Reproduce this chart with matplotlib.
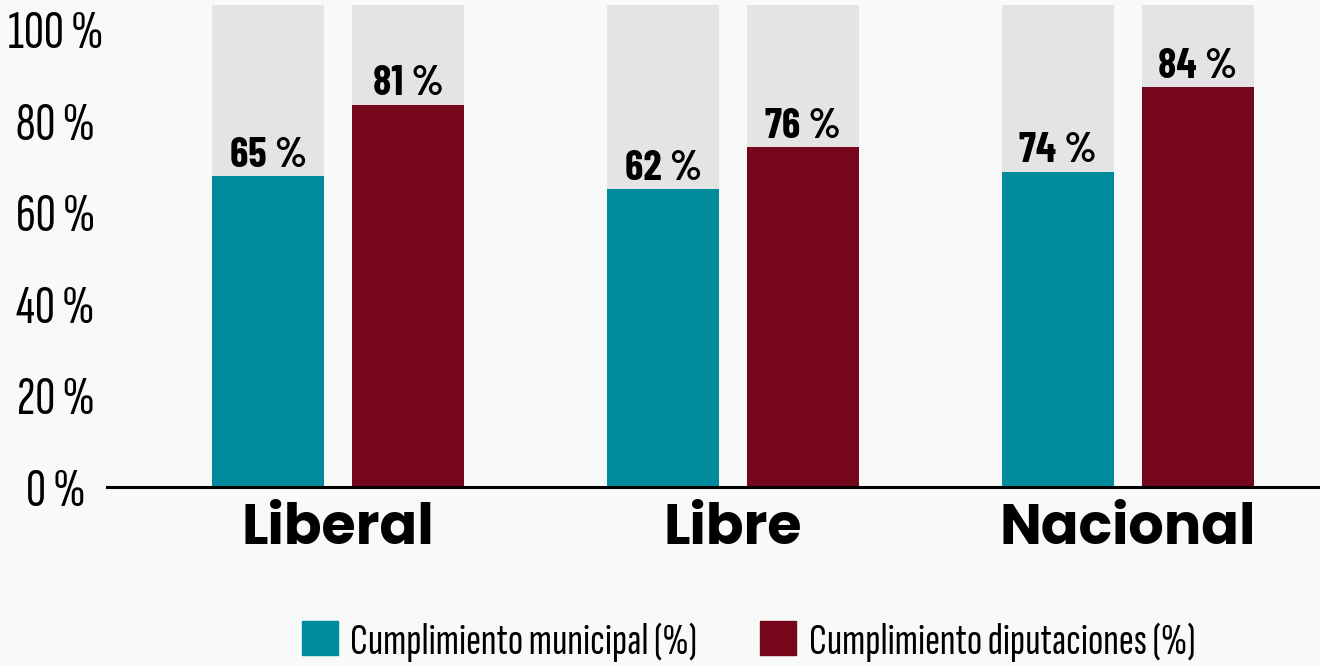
import matplotlib
matplotlib.use("Agg")
import matplotlib.pyplot as plt
import numpy as np
from matplotlib.patches import Patch
from matplotlib import font_manager as fm

categories = ["Liberal", "Libre", "Nacional"]
# bar heights as drawn in the picture (%), and the printed labels
municipal = [64.5, 61.8, 65.4]
diputaciones = [79.3, 70.5, 83.0]
municipal_labels = ["65 %", "62 %", "74 %"]
diputaciones_labels = ["81 %", "76 %", "84 %"]
series_names = ["Cumplimiento municipal (%)", "Cumplimiento diputaciones (%)"]
tick_values = [0, 20, 40, 60, 80, 100]
tick_labels = ["0 %", "20 %", "40 %", "60 %", "80 %", "100 %"]

TEAL = "#008b9c"
MAROON = "#75061c"
GRAY = "#e4e4e4"
BG = "#f8f9f9"

avail = {f.name for f in fm.fontManager.ttflist}
LIGHT = ["Sofia Sans Extra Condensed", "Barlow Condensed", "DejaVu Sans"]
BOLDC = ["Barlow Condensed", "DejaVu Sans"]
HEAVY = ["Poppins", "DejaVu Sans"]
cat_size = 40 if "Poppins" in avail else 36

fig = plt.figure(figsize=(13.2, 6.66), dpi=100, facecolor=BG)
ax = fig.add_axes([107/1320, 1-487/666, 1-107/1320, (487-5)/666])
ax.set_facecolor("none")

x = np.arange(len(categories))
w = 0.2835
off = 0.177

ax.bar(x - off, [100]*len(x), width=w, color=GRAY, zorder=1)
ax.bar(x + off, [100]*len(x), width=w, color=GRAY, zorder=1)
b1 = ax.bar(x - off, municipal, width=w, color=TEAL, zorder=2)
b2 = ax.bar(x + off, diputaciones, width=w, color=MAROON, zorder=2)

for bars, vals, labs in ((b1, municipal, municipal_labels), (b2, diputaciones, diputaciones_labels)):
    for rect, v, lab in zip(bars, vals, labs):
        ax.annotate(lab, (rect.get_x() + rect.get_width()/2, v),
                    xytext=(0, 1), textcoords="offset points",
                    ha="center", va="bottom", fontsize=30, fontweight="bold",
                    family=BOLDC, color="black", zorder=3)

ax.set_xlim(-0.585, 2.486)
ax.set_ylim(0, 100)
ax.set_yticks([])
ax.set_xticks(x)
ax.set_xticklabels(categories, fontsize=cat_size, fontweight="bold", family=HEAVY)
ax.tick_params(axis="x", length=0, pad=11)
for s in ["top", "right", "left"]:
    ax.spines[s].set_visible(False)
ax.spines["bottom"].set_linewidth(2.2)
ax.spines["bottom"].set_zorder(4)

# tick label axis
ax2 = fig.add_axes(ax.get_position(), sharex=ax)
ax2.set_facecolor("none")
ax2.set_ylim(0, 100 * 482 / 457)
ax2.set_yticks(tick_values)
ax2.set_yticklabels(tick_labels, fontsize=40, family=LIGHT, fontweight="light")
for lab in ax2.get_yticklabels():
    lab.set_horizontalalignment("center")
ax2.tick_params(axis="y", length=0, pad=37)
ax2.tick_params(axis="x", bottom=False, labelbottom=False)
for s in ax2.spines.values():
    s.set_visible(False)

handles = [Patch(color=TEAL), Patch(color=MAROON)]
fig.legend(handles, series_names, loc="center", bbox_to_anchor=(0.567, 0.037),
           ncol=2, frameon=False, handlelength=0.8, handleheight=0.8,
           handletextpad=0.27, columnspacing=1.4,
           prop={"family": LIGHT, "size": 32.5, "weight": "light"})

fig.savefig("out.png", dpi=100, facecolor=BG)
